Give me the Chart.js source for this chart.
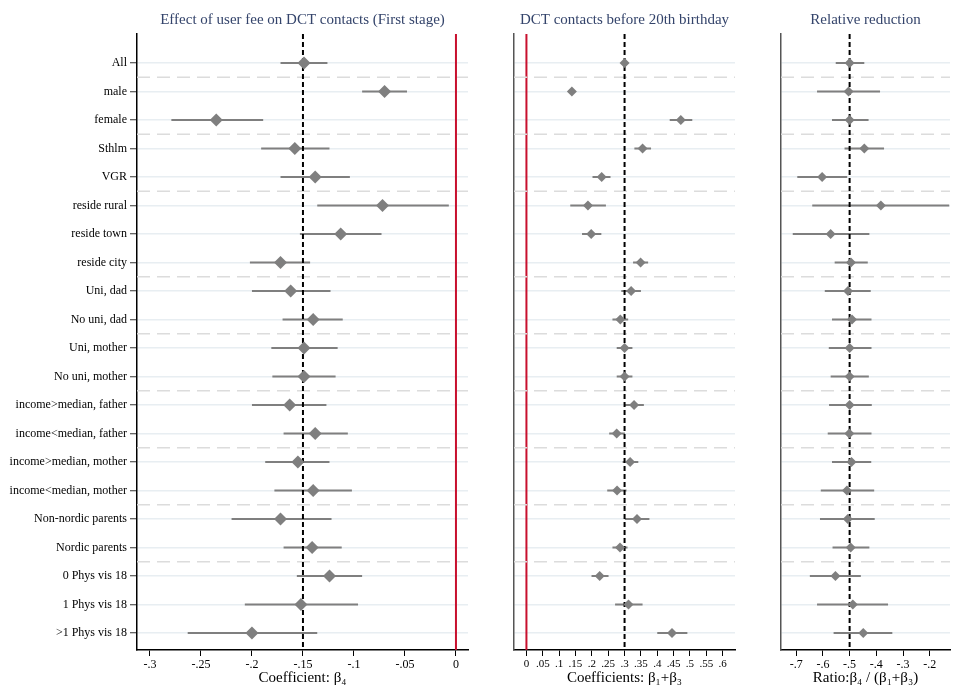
<!DOCTYPE html>
<html>
<head>
<meta charset="utf-8">
<script src="https://cdn.jsdelivr.net/npm/chart.js@4.4.0/dist/chart.umd.min.js"></script>
<style>
  html, body { margin: 0; padding: 0; background: #fff; }
  #wrap { position: relative; width: 955px; height: 687px; }
  canvas { position: absolute; top: 0; }
</style>
</head>
<body>
<div id="wrap">
  <canvas id="c1" width="475" height="687" style="left:0px"></canvas>
  <canvas id="c2" width="262" height="687" style="left:480px"></canvas>
  <canvas id="c3" width="195" height="687" style="left:760px"></canvas>
</div>
<script>
// subgroup rows, top to bottom
const rows = ["All", "male", "female", "Sthlm", "VGR", "reside rural", "reside town", "reside city",
  "Uni, dad", "No uni, dad", "Uni, mother", "No uni, mother",
  "income>median, father", "income<median, father", "income>median, mother", "income<median, mother",
  "Non-nordic parents", "Nordic parents", "0 Phys vis 18", "1 Phys vis 18", ">1 Phys vis 18"];

// dashed separators sit between these rows
const groupBreaks = [0.5, 2.5, 4.5, 7.5, 9.5, 11.5, 13.5, 15.5, 17.5];

// panel 1: first stage, beta4
const feeEst = [-0.149, -0.070, -0.235, -0.158, -0.138, -0.072, -0.113, -0.172, -0.162, -0.140, -0.149,
  -0.149, -0.163, -0.138, -0.155, -0.140, -0.172, -0.141, -0.124, -0.152, -0.200];
const feeLo = [-0.172, -0.092, -0.279, -0.191, -0.172, -0.136, -0.153, -0.202, -0.200, -0.170, -0.181,
  -0.180, -0.200, -0.169, -0.187, -0.178, -0.220, -0.169, -0.156, -0.207, -0.263];
const feeHi = [-0.126, -0.048, -0.189, -0.124, -0.104, -0.007, -0.073, -0.143, -0.123, -0.111, -0.116,
  -0.118, -0.127, -0.106, -0.124, -0.102, -0.122, -0.112, -0.092, -0.096, -0.136];
const feeTicks = [-0.3, -0.25, -0.2, -0.15, -0.1, -0.05, 0];

// panel 2: beta1 + beta3
const dctEst = [0.300, 0.139, 0.472, 0.355, 0.230, 0.188, 0.198, 0.349, 0.320, 0.287, 0.300,
  0.300, 0.329, 0.276, 0.317, 0.277, 0.338, 0.286, 0.224, 0.312, 0.445];
const dctLo = [0.290, 0.134, 0.438, 0.330, 0.202, 0.134, 0.170, 0.326, 0.290, 0.263, 0.276,
  0.276, 0.300, 0.253, 0.294, 0.247, 0.301, 0.263, 0.199, 0.271, 0.400];
const dctHi = [0.310, 0.144, 0.507, 0.381, 0.257, 0.243, 0.229, 0.372, 0.350, 0.311, 0.324,
  0.324, 0.359, 0.301, 0.342, 0.306, 0.376, 0.309, 0.251, 0.355, 0.492];
const dctTicks = [0, 0.05, 0.1, 0.15, 0.2, 0.25, 0.3, 0.35, 0.4, 0.45, 0.5, 0.55, 0.6];

// panel 3: ratio
const ratioEst = [-0.500, -0.504, -0.500, -0.445, -0.603, -0.383, -0.571, -0.495, -0.506, -0.491, -0.500,
  -0.500, -0.500, -0.501, -0.493, -0.510, -0.507, -0.496, -0.553, -0.488, -0.449];
const ratioLo = [-0.552, -0.622, -0.566, -0.519, -0.696, -0.640, -0.713, -0.556, -0.593, -0.566, -0.578,
  -0.571, -0.577, -0.582, -0.566, -0.608, -0.611, -0.564, -0.649, -0.622, -0.560];
const ratioHi = [-0.445, -0.386, -0.429, -0.371, -0.509, -0.127, -0.426, -0.432, -0.421, -0.418, -0.418,
  -0.428, -0.417, -0.418, -0.419, -0.408, -0.406, -0.426, -0.458, -0.356, -0.340];
const ratioTicks = [-0.7, -0.6, -0.5, -0.4, -0.3, -0.2];

const serif = "'Liberation Serif', 'DejaVu Serif', serif";
const gray = "#7f7f7f";
const red = "#c8102e";
const yMin = -1.02, yMax = 20.6;

Chart.defaults.font.family = serif;

function stataNum(v) {
  let s = String(Math.round(v * 1000) / 1000);
  return s.replace("0.", ".");
}

function panel(id, cfg) {
  const pts = cfg.est.map((v, i) => ({ x: v, y: i }));
  const ci = [];
  cfg.lo.forEach((v, i) => {
    ci.push({ x: v, y: i }, { x: cfg.hi[i], y: i }, { x: null, y: null });
  });
  const seps = [];
  groupBreaks.forEach((b) => {
    seps.push({ x: cfg.min, y: b }, { x: cfg.max, y: b }, { x: null, y: null });
  });

  const datasets = [
    { data: pts, pointStyle: "rectRot", pointRadius: cfg.r, backgroundColor: gray, borderColor: gray, borderWidth: 0, order: 0 },
    { data: [{ x: cfg.ref, y: yMin }, { x: cfg.ref, y: yMax }], showLine: true, borderColor: "#000", borderWidth: 2, borderDash: [5, 3], pointRadius: 0, order: 1 },
    { data: ci, showLine: true, borderColor: gray, borderWidth: 2, pointRadius: 0, spanGaps: false, order: 2 },
    { data: seps, showLine: true, borderColor: "#dcdcdc", borderWidth: 1.5, borderDash: [13, 7], pointRadius: 0, spanGaps: false, order: 3 },
  ];
  if (cfg.zero) {
    datasets.push({ data: [{ x: 0, y: yMin }, { x: 0, y: yMax }], showLine: true, borderColor: red, borderWidth: 2, pointRadius: 0, order: 4 });
  }

  return new Chart(document.getElementById(id), {
    type: "scatter",
    data: { datasets: datasets },
    options: {
      responsive: false,
      animation: false,
      devicePixelRatio: 1,
      events: [],
      layout: { padding: { top: 0, left: 0, bottom: 0, right: cfg.padR } },
      plugins: {
        legend: { display: false },
        tooltip: { enabled: false },
        title: {
          display: true,
          text: cfg.title,
          fullSize: false,
          color: "#34446b",
          font: { family: serif, size: 15, weight: "normal" },
          padding: { top: 11, bottom: 5 },
        },
      },
      scales: {
        x: {
          type: "linear",
          min: cfg.min,
          max: cfg.max,
          afterBuildTicks: (s) => { s.ticks = cfg.ticks.map((v) => ({ value: v })); },
          afterFit: (s) => { s.height = 37; },
          ticks: { callback: (v) => stataNum(v), color: "#000", font: { size: cfg.tickSize }, padding: 2, maxRotation: 0, autoSkip: false },
          grid: { drawOnChartArea: false, drawTicks: true, tickLength: 6, tickColor: "#000" },
          border: { display: true, color: "#000", width: 1.5 },
          title: { display: true, text: cfg.xTitle, color: "#000", font: { size: 15 }, padding: 0 },
        },
        y: {
          type: "linear",
          reverse: true,
          min: yMin,
          max: yMax,
          afterBuildTicks: (s) => { s.ticks = rows.map((r, i) => ({ value: i })); },
          afterFit: (s) => { s.width = cfg.yWidth; },
          ticks: { display: cfg.labels, callback: (v) => rows[v], color: "#000", font: { size: 12 }, padding: 3, autoSkip: false },
          grid: { color: "#e8eef2", lineWidth: 1.5, drawTicks: cfg.labels, tickLength: 7, tickColor: "#333", tickWidth: 1 },
          border: { display: true, color: cfg.axisColor, width: 1.5 },
        },
      },
    },
  });
}

panel("c1", {
  title: "Effect of user fee on DCT contacts (First stage)",
  xTitle: "Coefficient: \u03B2\u2084",
  est: feeEst, lo: feeLo, hi: feeHi, ticks: feeTicks,
  min: -0.3127, max: 0.0118, ref: -0.15, zero: true,
  r: 6.5, tickSize: 12, yWidth: 137, padR: 7, labels: true, axisColor: "#000",
});

panel("c2", {
  title: "DCT contacts before 20th birthday",
  xTitle: "Coefficients: \u03B2\u2081+\u03B2\u2083",
  est: dctEst, lo: dctLo, hi: dctHi, ticks: dctTicks,
  min: -0.038, max: 0.6376, ref: 0.3, zero: true,
  r: 5, tickSize: 11, yWidth: 34, padR: 7, labels: false, axisColor: "#555",
});

panel("c3", {
  title: "Relative reduction",
  xTitle: "Ratio:\u03B2\u2084 / (\u03B2\u2081+\u03B2\u2083)",
  est: ratioEst, lo: ratioLo, hi: ratioHi, ticks: ratioTicks,
  min: -0.757, max: -0.124, ref: -0.5, zero: false,
  r: 5, tickSize: 12, yWidth: 21, padR: 4, labels: false, axisColor: "#555",
});
</script>
</body>
</html>
